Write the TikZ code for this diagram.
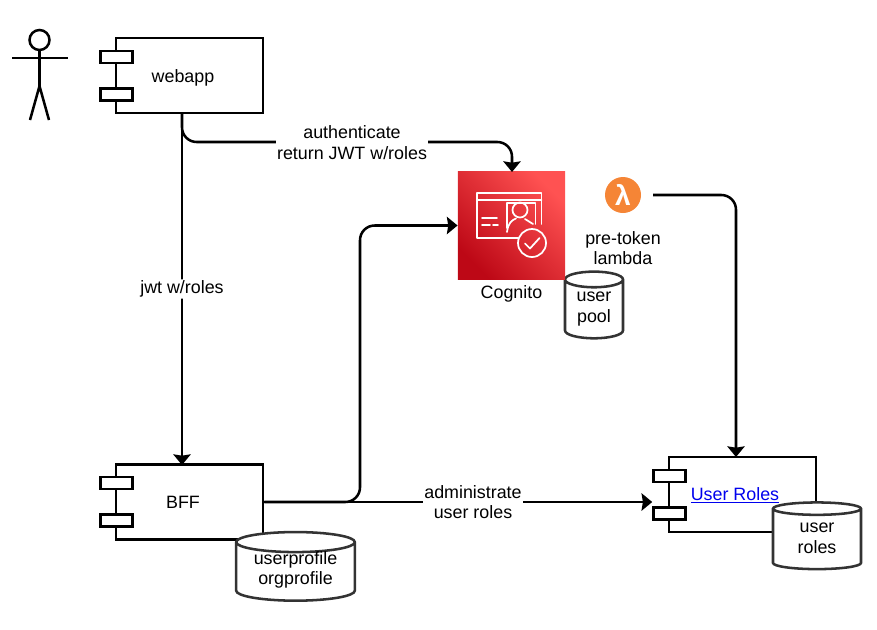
\documentclass[tikz,border=0pt]{standalone}
\usepackage{fontspec}
\setmainfont{Liberation Sans}
\usetikzlibrary{arrows.meta, positioning, shapes.geometric}
\definecolor{cognitoDark}{HTML}{BD0816}
\definecolor{cognitoLight}{HTML}{FF5252}
\definecolor{lambdaOrange}{HTML}{F58536}
\definecolor{cylGray}{HTML}{333333}
\definecolor{linkBlue}{HTML}{0000EE}
\tikzset{
  comp/.style={draw, line width=1.9pt, fill=white, minimum width=110.25pt, minimum height=56.25pt, inner sep=0pt},
  tab/.style={draw, line width=1.9pt, fill=white, minimum width=24pt, minimum height=9pt, inner sep=0pt},
  store/.style={cylinder, shape border rotate=90, draw=cylGray, line width=1.9pt, fill=white, inner sep=0pt, align=center},
  flow/.style={line width=1.9pt, rounded corners=11pt, -{Stealth[length=8pt, width=13pt, inset=1pt]}},
  tag/.style={fill=white, inner sep=1pt, align=center},
  iconline/.style={draw=white, line width=1.3pt, line cap=round, line join=round}
}
\begin{document}
\begin{tikzpicture}[x=0.75pt, y=-0.75pt, font=\fontsize{13.4}{15.5}\selectfont]
    \useasboundingbox (0,0) rectangle (877,629);

    % Actor
    \node[circle, draw, line width=1.9pt, minimum size=15pt, inner sep=0pt] (head) at (39.5,40) {};
    \coordinate (hip) at (39.5,86);
    \coordinate (armL) at (12,58);
    \coordinate (armR) at (68,58);
    \coordinate (footL) at (30,120);
    \coordinate (footR) at (49,120);
    \draw[line width=1.9pt] (head) -- (hip);
    \draw[line width=1.9pt] (armL) -- (armR);
    \draw[line width=1.9pt] (footL) -- (hip) -- (footR);

    % Components
    \node[comp] (webapp) at (189.5,75.5) {};
    \node at (183,77.5) (webappText) {webapp};
    \node[tab] (webappTabA) at (116.5,57) {};
    \node[tab] (webappTabB) at (116.5,94.5) {};

    \node[comp] (bff) at (189.5,502) {};
    \node at (183,502) (bffText) {BFF};
    \node[tab] (bffTabA) at (116.5,483) {};
    \node[tab] (bffTabB) at (116.5,520.5) {};

    \node[comp] (roles) at (742.5,494.5) {};
    \node[text=linkBlue] at (735,495) (rolesText) {\underline{User Roles}};
    \node[tab] (rolesTabA) at (669.5,476) {};
    \node[tab] (rolesTabB) at (669.5,513.5) {};

    % Data stores
    \node[store, minimum width=89pt, minimum height=51pt, aspect=0.24] (profile) at (295.5,572) {\phantom{userprofile}\\\phantom{orgprofile}};
    \node[align=center] at (295.5,570) (profileText) {userprofile\\orgprofile};
    \node[store, minimum width=66pt, minimum height=50pt, aspect=0.32] (rolesDb) at (817,539.5) {\phantom{user}\\\phantom{roles}};
    \node[align=center] at (817,538) (rolesDbText) {user\\roles};
    \node[store, minimum width=43.5pt, minimum height=50pt, aspect=0.45] (pool) at (594,309.5) {\phantom{user}\\\phantom{pool}};
    \node[align=center] at (594,309) (poolText) {user\\pool};

    % Cognito tile
    \node[minimum size=80.5pt, inner sep=0pt, bottom color=cognitoDark, top color=cognitoLight,
          shading angle=-45] (cognito) at (511.5,225.5) {};
    \node[below=1pt of cognito] (cognitoText) {Cognito};
    % Cognito icon
    \draw[iconline] (518,238) -- (477,238) -- (477,193) -- (541.5,193) -- (541.5,224);
    \draw[iconline] (477,200) -- (541.5,200);
    \draw[iconline] (507,228) -- (507,203) -- (535.5,203) -- (535.5,224);
    \draw[iconline] (482,218) -- (497,218);
    \draw[iconline] (482,225) -- (490,225);
    \draw[iconline] (493,225) -- (498,225);
    \draw[iconline] (520,210) circle (7.5);
    \draw[iconline] (507,232) .. controls (508,223) and (512,220) .. (516,218.5);
    \draw[iconline] (525,219) -- (533,224);
    \draw[iconline] (532,243) circle (14);
    \draw[iconline] (525,243.5) -- (530,248.5) -- (539.5,238);

    % Lambda
    \node[circle, minimum size=27pt, inner sep=0pt, fill=lambdaOrange, text=white, font=\fontsize{21}{21}\bfseries\selectfont] (lambda) at (623,195) {λ};
    \node[below=10pt of lambda, align=center] (lambdaText) {pre-token\\lambda};

    % Connectors
    \coordinate (webappOut) at (182,113);
    \coordinate (bffIn) at (182,465);
    \coordinate (roleIn) at (736,457);
    \coordinate (cogIn) at (512,172);
    \coordinate (lambdaOut) at (653,195);
    \draw[flow] (webappOut) -- node[tag] (jwtText) {jwt w/roles} (bffIn);
    \draw[flow] (webappOut) |- (350,142) -| (cogIn);
    \node[tag] (authText) at (352,142.5) {authenticate\\return JWT w/roles};
    \draw[flow] (bff.east) -| (360,225.5) -- (cognito.west);
    \draw[flow] (bff.east) -- node[tag, pos=0.538] (adminText) {administrate\\user roles} (rolesTabB.west |- bff.east);
    \draw[flow] (lambdaOut) -| (roleIn);
\end{tikzpicture}
\end{document}
